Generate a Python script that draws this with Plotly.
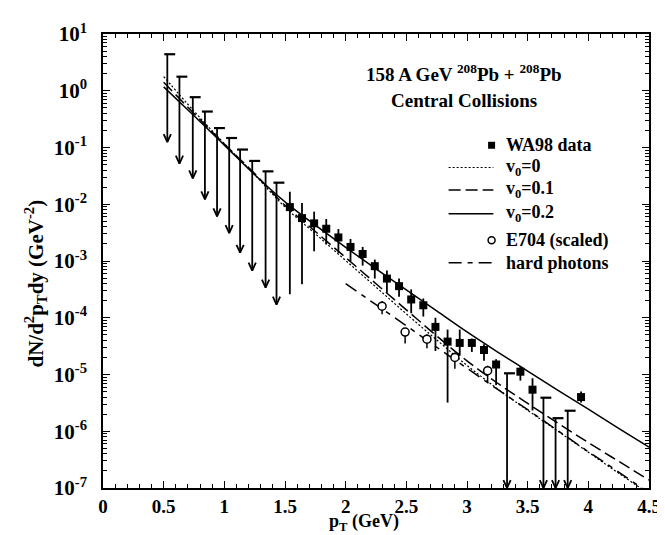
import plotly.graph_objects as go

# WA98 direct photons (filled squares) with asymmetric errors (ends of bars)
wa98_pt = [1.54, 1.64, 1.74, 1.84, 1.94, 2.04, 2.14, 2.24, 2.34, 2.44, 2.54,
           2.64, 2.74, 2.84, 2.94, 3.04, 3.14, 3.24, 3.44, 3.54, 3.94]
wa98_val = [8.9e-3, 5.7e-3, 4.6e-3, 3.7e-3, 2.6e-3, 1.77e-3, 1.33e-3, 8.1e-4, 4.9e-4, 3.6e-4, 2.1e-4,
            1.66e-4, 6.9e-5, 3.8e-5, 3.6e-5, 3.6e-5, 2.7e-5, 1.5e-5, 1.12e-5, 5.4e-6, 4.0e-6]
wa98_hi = [1.66e-2, 1.05e-2, 7.4e-3, 5.5e-3, 3.65e-3, 2.44e-3, 1.77e-3, 1.06e-3, 6.8e-4, 4.9e-4, 3.16e-4,
           2.19e-4, 1.0e-4, 6.2e-5, 6.2e-5, 4.3e-5, 3.4e-5, 1.86e-5, 1.4e-5, 8.6e-6, 5.0e-6]
wa98_lo = [2.6e-4, 3.9e-4, 1.48e-3, 1.95e-3, 1.39e-3, 9.9e-4, 8.3e-4, 4.9e-4, 2.75e-4, 2.34e-4, 1.2e-4,
           1.05e-4, 2.6e-5, 3.2e-6, 2.14e-5, 2.5e-5, 1.74e-5, 6.5e-6, 7.8e-6, 2.33e-6, 3.2e-6]

# WA98 upper limits (arrows)
ul_pt = [0.53, 0.63, 0.74, 0.84, 0.94, 1.04, 1.13, 1.23, 1.34, 1.43, 3.33, 3.63, 3.73, 3.83]
ul_top = [4.4, 1.77, 0.77, 0.43, 0.22, 0.147, 0.092, 0.058, 0.038, 0.024, 1.05e-5, 3.9e-6, 1.7e-6, 2.3e-6]
ul_tip = [0.125, 0.052, 0.0285, 0.0122, 6.1e-3, 3.1e-3, 1.4e-3, 6.8e-4, 3.4e-4, 1.7e-4, 1e-7, 1e-7, 1e-7, 1e-7]

# E704 (scaled), open circles
e704_pt = [2.30, 2.49, 2.67, 2.90, 3.17]
e704_val = [1.6e-4, 5.6e-5, 4.2e-5, 2.0e-5, 1.17e-5]
e704_hi = [1.97e-4, 6.3e-5, 5.1e-5, 2.45e-5, 1.43e-5]
e704_lo = [1.15e-4, 3.5e-5, 2.9e-5, 1.26e-5, 7.3e-6]

# model curves
curve_pt = [0.5, 0.75, 1.0, 1.25, 1.5, 1.75, 2.0, 2.25, 2.5, 2.75, 3.0, 3.25, 3.5, 3.75, 4.0, 4.25, 4.5]
v00 = [1.78, 0.437, 0.117, 0.0331, 8.91e-3, 3.02e-3, 1.02e-3, 3.47e-4, 1.17e-4, 4.07e-5, 1.45e-5,
       5.62e-6, 2.34e-6, 1.0e-6, 4.27e-7, 1.82e-7, 7.94e-8]
v01 = [1.41, 0.398, 0.115, 0.0347, 9.55e-3, 3.31e-3, 1.15e-3, 3.98e-4, 1.38e-4, 4.79e-5, 1.74e-5,
       7.08e-6, 3.09e-6, 1.38e-6, 6.31e-7, 2.95e-7, 1.38e-7]
v02 = [1.17, 0.363, 0.110, 0.0331, 0.011, 4.27e-3, 1.74e-3, 7.24e-4, 3.09e-4, 1.32e-4, 5.62e-5,
       2.51e-5, 1.15e-5, 5.25e-6, 2.45e-6, 1.12e-6, 5.25e-7]
hard_pt = [2.0, 2.25, 2.5, 2.75, 3.0, 3.25, 3.5, 3.75, 4.0, 4.25, 4.5]
hard = [3.98e-4, 1.7e-4, 7.24e-5, 3.02e-5, 1.29e-5, 5.5e-6, 2.4e-6, 1.02e-6, 4.37e-7, 1.91e-7, 8.1e-8]

x_ticks = [0, 0.5, 1, 1.5, 2, 2.5, 3, 3.5, 4, 4.5]
x_labels = ["0", "0.5", "1", "1.5", "2", "2.5", "3", "3.5", "4", "4.5"]
y_exp = [-7, -6, -5, -4, -3, -2, -1, 0, 1]

FONT = "Liberation Serif"
DOT = "2px,2px"
LDASH = "12px,5px"
HDASH = "13px,6px,5px,6px"

fig = go.Figure()

# curves
for y, dash, w in [(v00, DOT, 1.2), (v01, LDASH, 1.5), (v02, "solid", 1.5)]:
    fig.add_trace(go.Scatter(x=curve_pt, y=y, mode="lines",
                             line=dict(color="black", width=w, dash=dash, shape="spline")))
fig.add_trace(go.Scatter(x=hard_pt, y=hard, mode="lines",
                         line=dict(color="black", width=1.5, dash=HDASH, shape="spline")))

# upper limits: stems, caps and arrow heads
stem_x, stem_y, cap_x, cap_y, head_x, head_y = [], [], [], [], [], []
for x, top, tip in zip(ul_pt, ul_top, ul_tip):
    stem_x += [x, x, None]
    stem_y += [top, tip, None]
    cap_x += [x - 0.025, x + 0.065, None]
    cap_y += [top, top, None]
    head_x += [x - 0.03, x, x + 0.03, None]
    head_y += [tip * 10 ** 0.14, tip, tip * 10 ** 0.14, None]
fig.add_trace(go.Scatter(x=stem_x, y=stem_y, mode="lines", line=dict(color="black", width=1.8)))
fig.add_trace(go.Scatter(x=cap_x, y=cap_y, mode="lines", line=dict(color="black", width=2.2)))
fig.add_trace(go.Scatter(x=head_x, y=head_y, mode="lines", line=dict(color="black", width=1.8)))

# WA98 squares
fig.add_trace(go.Scatter(
    x=wa98_pt, y=wa98_val, mode="markers",
    marker=dict(symbol="square", size=8, color="black"),
    error_y=dict(type="data", symmetric=False,
                 array=[h - v for h, v in zip(wa98_hi, wa98_val)],
                 arrayminus=[v - l for v, l in zip(wa98_val, wa98_lo)],
                 color="black", thickness=1.8, width=0),
))

# E704 circles
fig.add_trace(go.Scatter(
    x=e704_pt, y=e704_val, mode="markers",
    marker=dict(symbol="circle", size=8, color="white", line=dict(color="black", width=1.5)),
    error_y=dict(type="data", symmetric=False,
                 array=[h - v for h, v in zip(e704_hi, e704_val)],
                 arrayminus=[v - l for v, l in zip(e704_val, e704_lo)],
                 color="black", thickness=1.5, width=0),
))

fig.update_traces(showlegend=False, hoverinfo="skip")


def bfont(size):
    return dict(family=FONT, size=size, color="black", weight="bold")


# hand-drawn legend (paper coordinates)
leg_x0, leg_x1, txt_x = 0.633, 0.715, 0.7336
legend_rows = [
    ("WA98 data", 0.7549, "square"),
    ("v<sub>0</sub>=0", 0.706, DOT),
    ("v<sub>0</sub>=0.1", 0.6565, LDASH),
    ("v<sub>0</sub>=0.2", 0.604, "solid"),
    ("E704 (scaled)", 0.5455, "circle"),
    ("hard photons", 0.496, HDASH),
]
shapes = []
annotations = []
for label, yy, style in legend_rows:
    if style == "square":
        shapes.append(dict(type="rect", xref="paper", yref="paper",
                           x0=0.7117 - 0.0064, x1=0.7117 + 0.0064, y0=yy - 0.0077, y1=yy + 0.0077,
                           fillcolor="black", line=dict(width=0)))
    elif style == "circle":
        shapes.append(dict(type="circle", xref="paper", yref="paper",
                           x0=0.7117 - 0.0064, x1=0.7117 + 0.0064, y0=yy - 0.0077, y1=yy + 0.0077,
                           fillcolor="white", line=dict(color="black", width=1.5)))
    else:
        shapes.append(dict(type="line", xref="paper", yref="paper",
                           x0=leg_x0, x1=leg_x1, y0=yy, y1=yy,
                           line=dict(color="black", width=1.2 if style == DOT else 1.5, dash=style)))
    annotations.append(dict(text=label, xref="paper", yref="paper", x=txt_x, y=yy,
                            xanchor="left", yanchor="middle", showarrow=False, font=bfont(18)))

annotations += [
    dict(text="158 A GeV <sup>208</sup>Pb + <sup>208</sup>Pb", xref="paper", yref="paper",
         x=0.662, y=0.9147, xanchor="center", yanchor="middle", showarrow=False, font=bfont(19)),
    dict(text="Central Collisions", xref="paper", yref="paper",
         x=0.662, y=0.8534, xanchor="center", yanchor="middle", showarrow=False, font=bfont(19)),
    dict(text="p<sub>T</sub> (GeV)", xref="paper", yref="paper",
         x=0.478, y=-0.077, xanchor="center", yanchor="middle", showarrow=False, font=bfont(18)),
    dict(text="dN/d<sup>2</sup>p<sub>T</sub>dy (GeV<sup>-2</sup>)", xref="paper", yref="paper",
         x=-0.123, y=0.45, xanchor="center", yanchor="middle", showarrow=False, textangle=-90,
         font=bfont(21)),
]

minor_y = [m * 10.0 ** k for k in range(-7, 1) for m in range(2, 10)]

fig.update_layout(
    width=665, height=535,
    margin=dict(l=95, r=22, t=23, b=55),
    plot_bgcolor="white", paper_bgcolor="white",
    shapes=shapes, annotations=annotations,
    xaxis=dict(range=[0, 4.5], tickvals=x_ticks, ticktext=x_labels,
               ticks="inside", ticklen=7, tickwidth=1.2, tickcolor="black", ticklabelstandoff=0,
               minor=dict(ticks="inside", dtick=0.1, ticklen=4, tickwidth=1, tickcolor="black"),
               showline=True, linecolor="black", linewidth=1.5, mirror="ticks",
               showgrid=False, zeroline=False, tickfont=bfont(19)),
    yaxis=dict(type="log", range=[-7, 1],
               tickvals=[10.0 ** e for e in y_exp],
               ticktext=["10<sup>%d</sup>" % e for e in y_exp],
               ticks="inside", ticklen=7, tickwidth=1.2, tickcolor="black", ticklabelstandoff=10,
               minor=dict(ticks="inside", tickvals=minor_y, ticklen=4, tickwidth=1, tickcolor="black"),
               showline=True, linecolor="black", linewidth=1.5, mirror="ticks",
               showgrid=False, zeroline=False, tickfont=bfont(21)),
)

fig.write_html("out.html")
